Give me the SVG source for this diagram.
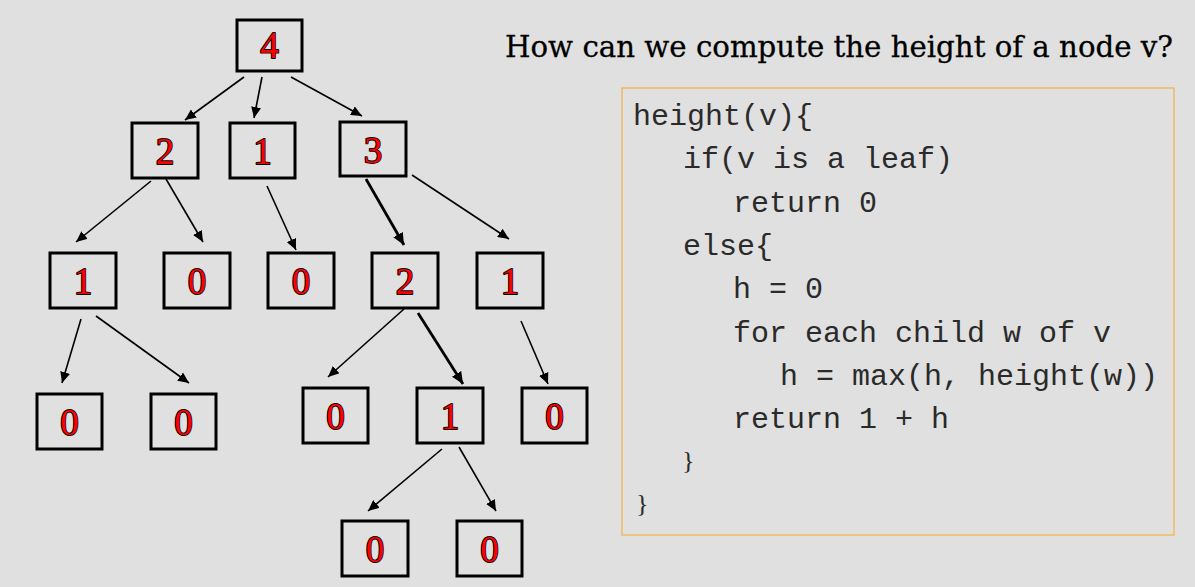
<svg xmlns="http://www.w3.org/2000/svg" width="1195" height="587" viewBox="0 0 1195 587">
  <style>
    .box { fill: #e0e0e0; stroke: #000; stroke-width: 3; }
    .num { font-family: "Liberation Serif", "Times New Roman", serif; font-size: 37px; fill: #ff0000; stroke: #000; stroke-width: 1.8; paint-order: stroke; stroke-linejoin: round; text-anchor: middle; }
    .edge { stroke: #000; stroke-width: 1.6; fill: none; marker-end: url(#arrow); }
    .edge.bold { stroke-width: 2.8; marker-end: url(#arrowBig); }
    .code { font-family: "Liberation Mono", "Courier New", monospace; font-size: 30px; fill: #2a2a2a; }
    .brace { font-family: "Liberation Serif", "Times New Roman", serif; font-size: 26px; fill: #2a2a2a; }
    .title { font-family: "DejaVu Serif", "Liberation Serif", serif; font-size: 30px; fill: #000; stroke: #000; stroke-width: 0.3; }
  </style>
  <defs>
    <marker id="arrow" markerUnits="userSpaceOnUse" markerWidth="12" markerHeight="10" refX="11" refY="5" orient="auto">
      <path d="M0,0 L11,5 L0,10 Z" fill="#000"/>
    </marker>
    <marker id="arrowBig" markerUnits="userSpaceOnUse" markerWidth="13" markerHeight="11" refX="12" refY="5.5" orient="auto">
      <path d="M0,0 L12,5.5 L0,11 Z" fill="#000"/>
    </marker>
  </defs>

  <rect width="1195" height="587" fill="#e0e0e0"/>

  <!-- tree edges -->
  <g id="edges">
    <line class="edge" x1="244" y1="77" x2="185" y2="120"/>
    <line class="edge" x1="262" y1="77" x2="254" y2="118"/>
    <line class="edge" x1="291" y1="77" x2="362" y2="116"/>
    <line class="edge" x1="151" y1="181" x2="76" y2="242"/>
    <line class="edge" x1="166" y1="179" x2="203" y2="242"/>
    <line class="edge" x1="267" y1="186" x2="296" y2="250"/>
    <line class="edge bold" x1="366" y1="179" x2="404" y2="245"/>
    <line class="edge" x1="412" y1="175" x2="509" y2="239"/>
    <line class="edge" x1="81" y1="319" x2="62" y2="383"/>
    <line class="edge" x1="96" y1="316" x2="189" y2="383"/>
    <line class="edge" x1="404" y1="309" x2="328" y2="377"/>
    <line class="edge bold" x1="418" y1="313" x2="463" y2="384"/>
    <line class="edge" x1="521" y1="321" x2="548" y2="384"/>
    <line class="edge" x1="442" y1="449" x2="368" y2="511"/>
    <line class="edge" x1="459" y1="447" x2="496" y2="511"/>
  </g>

  <!-- tree nodes, each labelled with its height -->
  <g id="n-root"><rect class="box" x="237" y="20" width="65" height="51"/><text class="num" x="269.5" y="58">4</text></g>

  <g id="n-a"><rect class="box" x="132" y="123" width="66" height="55"/><text class="num" x="165" y="164">2</text></g>
  <g id="n-b"><rect class="box" x="230" y="123" width="65" height="55"/><text class="num" x="262.5" y="164">1</text></g>
  <g id="n-c"><rect class="box" x="340" y="122" width="66" height="54"/><text class="num" x="373" y="163">3</text></g>

  <g id="n-aa"><rect class="box" x="50" y="253" width="66" height="55"/><text class="num" x="83" y="294">1</text></g>
  <g id="n-ab"><rect class="box" x="164" y="253" width="66" height="55"/><text class="num" x="197" y="294">0</text></g>
  <g id="n-ba"><rect class="box" x="268" y="253" width="66" height="55"/><text class="num" x="301" y="294">0</text></g>
  <g id="n-ca"><rect class="box" x="372" y="253" width="66" height="55"/><text class="num" x="405" y="294">2</text></g>
  <g id="n-cb"><rect class="box" x="477" y="253" width="66" height="55"/><text class="num" x="510" y="294">1</text></g>

  <g id="n-aaa"><rect class="box" x="37" y="394" width="65" height="55"/><text class="num" x="69.5" y="435">0</text></g>
  <g id="n-aab"><rect class="box" x="151" y="394" width="65" height="55"/><text class="num" x="183.5" y="435">0</text></g>
  <g id="n-caa"><rect class="box" x="303" y="388" width="65" height="55"/><text class="num" x="335.5" y="429">0</text></g>
  <g id="n-cab"><rect class="box" x="417" y="388" width="66" height="55"/><text class="num" x="450" y="429">1</text></g>
  <g id="n-cba"><rect class="box" x="522" y="388" width="65" height="55"/><text class="num" x="554.5" y="429">0</text></g>

  <g id="n-caba"><rect class="box" x="342" y="521" width="66" height="55"/><text class="num" x="375" y="562">0</text></g>
  <g id="n-cabb"><rect class="box" x="457" y="521" width="65" height="55"/><text class="num" x="489.5" y="562">0</text></g>

  <!-- question -->
  <text class="title" x="505" y="57" textLength="668" lengthAdjust="spacingAndGlyphs">How can we compute the height of a node v?</text>

  <!-- pseudocode panel -->
  <g id="code">
    <rect x="622" y="88" width="552" height="447" fill="none" stroke="#f4b042" stroke-width="1.2"/>
    <text class="code" x="633" y="125">height(v){</text>
    <text class="code" x="683" y="168">if(v is a leaf)</text>
    <text class="code" x="733" y="212">return 0</text>
    <text class="code" x="683" y="255">else{</text>
    <text class="code" x="733" y="298">h = 0</text>
    <text class="code" x="733" y="342">for each child w of v</text>
    <text class="code" x="780" y="385">h = max(h, height(w))</text>
    <text class="code" x="733" y="428">return 1 + h</text>
    <text class="brace" x="682" y="469">}</text>
    <text class="brace" x="636" y="512">}</text>
  </g>
</svg>
